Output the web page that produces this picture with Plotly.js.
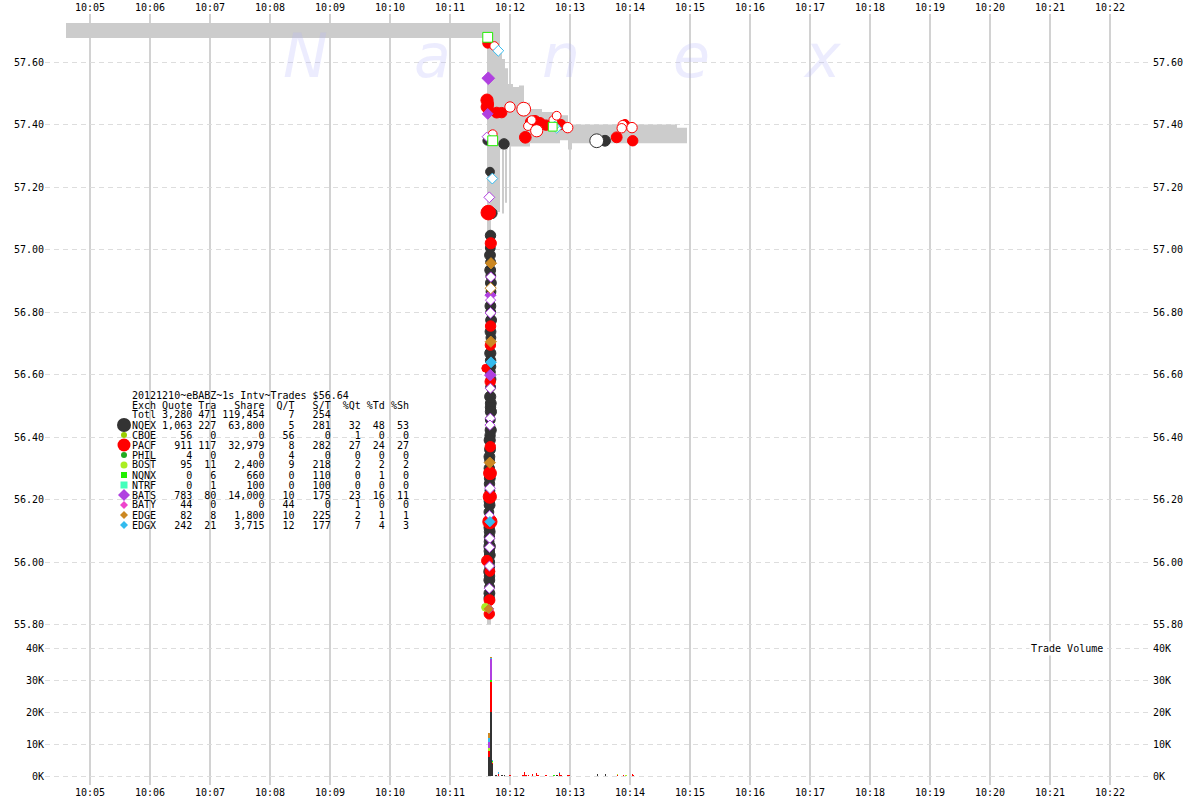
<!DOCTYPE html>
<html><head><meta charset="utf-8">
<script src="https://cdn.plot.ly/plotly-3.0.1.min.js"></script>
<style>html,body{margin:0;padding:0;background:#fff}#chart{width:1200px;height:800px}</style>
</head><body><div id="chart"></div>
<script>
// ---------- time base: values below are seconds after 10:11:00 on 2012-12-10 ----------
const BASE_MS = Date.UTC(2012, 11, 10, 10, 11, 0);
function toTime(sec) { return new Date(BASE_MS + Math.round(sec * 1000)).toISOString().replace('T', ' ').replace('Z', ''); }

const xRange = ['2012-12-10 10:04:15', '2012-12-10 10:22:42'];
const priceRange = [55.7536, 57.7536];
const volRange = [-2812.5, 42812.5];
const priceTicks = [55.8, 56.0, 56.2, 56.4, 56.6, 56.8, 57.0, 57.2, 57.4, 57.6];
const volTicks = [0, 10000, 20000, 30000, 40000];
const volTickText = ['0K', '10K', '20K', '30K', '40K'];

// ---------- NBBO band (ask / bid) ----------
const bandSec = [-384, 37, 41, 50, 52, 54, 55, 57, 58, 63, 69, 74, 80, 92, 110, 118, 122, 227, 237];
const bandAsk = [57.725, 57.725, 57.725, 57.63, 57.61, 57.61, 57.58, 57.58, 57.53, 57.52, 57.525, 57.47, 57.45, 57.44, 57.43, 57.40, 57.40, 57.39, 57.39];
const bandBid = [57.677, 55.80, 57.12, 57.32, 57.115, 57.32, 57.15, 57.32, 57.33, 57.33, 57.33, 57.33, 57.34, 57.34, 57.35, 57.32, 57.34, 57.34, 57.34];

// ---------- trades (seconds, price, shares) ----------
const nqexSec = [37.3, 54, 40, 41.7, 155,
  40.5, 40.3, 40.0, 40.6, 40.2, 40.8, 40.9, 41.0, 40.4, 40.7, 41.1, 40.5, 40.9, 40.3, 40.6, 40.9, 40.4, 41.0, 40.6, 40.2,
  40.8, 40.5, 40.9, 40.3, 40.7, 40.1, 39.7, 40.0, 39.4, 39.6, 39.3, 39.8, 39.5, 39.9, 39.3, 39.6, 38.9, 39.2, 39.7, 39.4,
  39.1, 39.6, 39.3, 39.8, 39.4, 39.7, 39.2, 39.5, 39.3, 39.6, 39.4, 39.2];
const nqexPx = [57.348, 57.338, 57.249, 57.116, 57.348,
  57.045, 57.005, 56.982, 56.960, 56.934, 56.915, 56.893, 56.865, 56.819, 56.800, 56.774, 56.737, 56.718, 56.668, 56.645, 56.625, 56.608, 56.585, 56.560, 56.529,
  56.508, 56.495, 56.481, 56.455, 56.422, 56.405, 56.390, 56.360, 56.337, 56.325, 56.300, 56.268, 56.250, 56.228, 56.195, 56.182, 56.160, 56.110, 56.097, 56.080,
  56.065, 56.050, 56.035, 56.022, 56.000, 55.985, 55.969, 55.955, 55.942, 55.920, 55.900, 55.885, 55.865, 55.850, 55.834, 55.823];
const nqexSh = [100, 300, 100, 400, 400,
  300, 200, 400, 200, 400, 200, 400, 200, 400, 200, 400, 400, 200, 500, 300, 200, 200, 200, 200, 500,
  400, 300, 500, 200, 500, 300, 500, 400, 400, 200, 300, 400, 300, 200, 300, 400, 200, 300, 400, 300,
  200, 600, 300, 400, 300, 200, 400, 300, 400, 200, 400, 300, 300, 200, 400, 300];
const nqexOpenSec = [146.7];
const nqexOpenPx = [57.348];
const nqexOpenSh = [3000];

const pacfSec = [37.7, 37.0, 37.2, 38.0, 46.7, 51.7, 75.3, 81, 85, 90, 96, 110.7, 166.7, 182.7, 175,
  38.3, 40.8, 40.6, 40.4, 40.2, 35.7, 40.3, 40.0, 39.8, 39.9, 37.0, 39.9, 39.5, 39.3];
const pacfPx = [57.660, 57.478, 57.456, 57.466, 57.438, 57.438, 57.359, 57.408, 57.411, 57.405, 57.398, 57.400, 57.359, 57.348, 57.402,
  57.118, 57.020, 56.755, 56.694, 56.577, 56.620, 56.369, 56.284, 56.209, 56.129, 56.004, 55.970, 55.878, 55.834];
const pacfSh = [200, 1000, 1000, 500, 400, 300, 700, 500, 500, 400, 300, 300, 400, 300, 100,
  5000, 500, 300, 300, 300, 50, 300, 1500, 2000, 4000, 400, 200, 400, 300];
const pacfOpenSec = [44.3, 42.7, 60, 73.7, 78, 86.7, 81.7, 103.3, 106.7, 117.7, 172.7, 171.7, 182];
const pacfOpenPx = [57.651, 57.369, 57.456, 57.449, 57.395, 57.380, 57.414, 57.414, 57.428, 57.390, 57.398, 57.388, 57.390];
const pacfOpenSh = [100, 100, 300, 3000, 100, 1000, 100, 100, 100, 300, 150, 150, 300];

const batsSec = [38.3, 37.7, 40.5, 40.3, 39.2];
const batsPx = [57.548, 57.434, 56.854, 56.598, 55.850];
const batsSh = [1000, 300, 400, 500, 100];
const batsOpenSec = [39.3, 36.7, 40.8, 40.6, 40.5, 40.4, 40.3, 40.0, 40.0, 39.8, 39.6, 39.5, 39.4, 39.6];
const batsOpenPx = [57.167, 57.361, 56.912, 56.838, 56.797, 56.556, 56.460, 56.438, 56.236, 56.076, 56.047, 55.987, 55.916, 56.150];
const batsOpenSh = [300, 100, 200, 200, 300, 200, 200, 200, 300, 200, 200, 200, 200, 100];

const edgeSec = [41.0, 40.8, 39.8, 38.7];
const edgePx = [56.956, 56.705, 56.318, 55.850];
const edgeSh = [400, 400, 400, 100];
const edgeOpenSec = [40.7];
const edgeOpenPx = [56.876];
const edgeOpenSh = [400];

const edgxSec = [41.0, 39.9];
const edgxPx = [56.639, 56.129];
const edgxSh = [300, 200];
const edgxOpenSec = [48.3, 42.3, 106.7, 104.7];
const edgxOpenPx = [57.636, 57.227, 57.388, 57.395];
const edgxOpenSh = [300, 300, 150, 150];

const nqnxOpenSec = [37.7, 42.7, 102.7];
const nqnxOpenPx = [57.679, 57.348, 57.393];
const nqnxOpenSh = [200, 200, 100];

const bostSec = [35.5];
const bostPx = [55.855];
const bostSh = [50];

// ---------- volume per second (shares) ----------
const volSec  = [39.2, 40.8, 42.5, 46, 48.3, 52, 54.3, 60, 72.7, 74.3, 76, 78.3, 82.3, 86.3, 87.7, 96, 104, 106.7, 109.3, 111, 117.7, 118.7, 147.3, 155.3, 167.3, 173.3, 176, 182.3, 183.3];
const volNQEX = [6000, 20100, 3700, 300, 0, 200, 300, 0, 0, 0, 0, 0, 0, 0, 0, 0, 0, 200, 0, 0, 0, 0, 750, 500, 0, 0, 0, 0, 0];
const volPACF = [1700, 9400, 500, 0, 700, 0, 0, 400, 200, 1200, 300, 200, 500, 1000, 300, 200, 0, 0, 900, 200, 300, 200, 0, 0, 300, 300, 0, 500, 200];
const volBOST = [1200, 0, 200, 0, 0, 0, 0, 0, 0, 0, 0, 0, 0, 0, 0, 0, 0, 0, 0, 0, 0, 0, 0, 0, 450, 0, 300, 0, 0];
const volNQNX = [0, 400, 300, 0, 0, 0, 0, 0, 0, 0, 0, 0, 0, 0, 0, 0, 300, 0, 0, 0, 0, 0, 0, 0, 0, 0, 0, 0, 0];
const volBATS = [1600, 6700, 0, 0, 0, 0, 0, 0, 0, 0, 0, 0, 0, 0, 0, 0, 0, 0, 0, 0, 0, 0, 0, 0, 0, 0, 0, 0, 0];
const volEDGX = [1500, 400, 400, 0, 500, 0, 0, 0, 0, 0, 0, 0, 0, 0, 0, 0, 0, 0, 500, 0, 0, 0, 0, 0, 0, 0, 0, 0, 0];
const volEDGE = [1300, 300, 0, 0, 0, 0, 0, 0, 0, 0, 0, 0, 0, 0, 0, 0, 0, 0, 0, 0, 0, 0, 0, 0, 0, 0, 0, 0, 0];

// ---------- summary table ----------
const tableTitle = '20121210~eBABZ~1s Intv~Trades $56.64';
const legExch  = ['Totl', 'NQEX', 'CBOE', 'PACF', 'PHIL', 'BOST', 'NQNX', 'NTRF', 'BATS', 'BATY', 'EDGE', 'EDGX'];
const legQuote = ['3,280', '1,063', '56', '911', '4', '95', '0', '0', '783', '44', '82', '242'];
const legTra   = ['471', '227', '0', '117', '0', '11', '6', '1', '80', '0', '8', '21'];
const legShare = ['119,454', '63,800', '0', '32,979', '0', '2,400', '660', '100', '14,000', '0', '1,800', '3,715'];
const legQT    = ['7', '5', '56', '8', '4', '9', '0', '0', '10', '44', '10', '12'];
const legST    = ['254', '281', '0', '282', '0', '218', '110', '100', '175', '0', '225', '177'];
const legXQt   = ['', '32', '1', '27', '0', '2', '0', '0', '23', '1', '2', '7'];
const legXTd   = ['', '48', '0', '24', '0', '2', '1', '0', '16', '0', '1', '4'];
const legXSh   = ['', '53', '0', '27', '0', '2', '0', '0', '11', '0', '1', '3'];

// ---------- styles ----------
const COLOR = {NQEX:'#333333', CBOE:'#99cc00', PACF:'#ff0000', PHIL:'#22aa22', BOST:'#aaee22', NQNX:'#22ee00',
               NTRF:'#44ffbb', BATS:'#b040e0', BATY:'#ee44cc', EDGE:'#cc8822', EDGX:'#33bbee'};
const LEG_SYMBOL = {NQEX:['circle',14], CBOE:['circle',6], PACF:['circle',13], PHIL:['circle',6], BOST:['circle',7],
                    NQNX:['square',6], NTRF:['square',7], BATS:['diamond',12], BATY:['diamond',8], EDGE:['diamond',8], EDGX:['diamond',8]};
const FONT = 'DejaVu Sans Mono, monospace';
const PLOT_L = 45, PLOT_R = 1152, PLOT_T = 14, PLOT_B = 785;
const pxX = x => (x - PLOT_L) / (PLOT_R - PLOT_L);
const pxY = y => (PLOT_B - y) / (PLOT_B - PLOT_T);
const sizeOf = s => 2 + 3.4 * Math.log10(s);

function tradeTrace(sec, px, sh, exch, symbol, open) {
  const k = symbol === 'diamond' ? 0.8 : 1;
  return {type:'scatter', mode:'markers', x: sec.map(toTime), y: px, xaxis:'x', yaxis:'y', hoverinfo:'skip',
    marker:{symbol: symbol, size: sh.map(s => sizeOf(s) * k), opacity: 1, color: open ? '#ffffff' : COLOR[exch],
            line:{color: COLOR[exch], width: 1}}};
}
function volTrace(vals, exch) {
  return {type:'bar', x: volSec.map(toTime), y: vals, width: 1600, xaxis:'x', yaxis:'y2', hoverinfo:'skip',
    marker:{color: COLOR[exch], line:{width:0}}};
}

const traces = [
  {type:'scatter', mode:'lines', x: bandSec.map(toTime), y: bandBid, xaxis:'x', yaxis:'y', hoverinfo:'skip',
   line:{shape:'hv', width:0, color:'#cccccc'}},
  {type:'scatter', mode:'lines', x: bandSec.map(toTime), y: bandAsk, xaxis:'x', yaxis:'y', hoverinfo:'skip',
   line:{shape:'hv', width:0, color:'#cccccc'}, fill:'tonexty', fillcolor:'#cccccc'},
  tradeTrace(nqexSec, nqexPx, nqexSh, 'NQEX', 'circle', false),
  tradeTrace(nqexOpenSec, nqexOpenPx, nqexOpenSh, 'NQEX', 'circle', true),
  tradeTrace(pacfSec, pacfPx, pacfSh, 'PACF', 'circle', false),
  tradeTrace(pacfOpenSec, pacfOpenPx, pacfOpenSh, 'PACF', 'circle', true),
  tradeTrace(bostSec, bostPx, bostSh, 'BOST', 'circle', false),
  tradeTrace(batsSec, batsPx, batsSh, 'BATS', 'diamond', false),
  tradeTrace(batsOpenSec, batsOpenPx, batsOpenSh, 'BATS', 'diamond', true),
  tradeTrace(edgeSec, edgePx, edgeSh, 'EDGE', 'diamond', false),
  tradeTrace(edgeOpenSec, edgeOpenPx, edgeOpenSh, 'EDGE', 'diamond', true),
  tradeTrace(edgxSec, edgxPx, edgxSh, 'EDGX', 'diamond', false),
  tradeTrace(edgxOpenSec, edgxOpenPx, edgxOpenSh, 'EDGX', 'diamond', true),
  tradeTrace(nqnxOpenSec, nqnxOpenPx, nqnxOpenSh, 'NQNX', 'square', true),
  volTrace(volNQEX, 'NQEX'),
  volTrace(volPACF, 'PACF'),
  volTrace(volBOST, 'BOST'),
  volTrace(volNQNX, 'NQNX'),
  volTrace(volBATS, 'BATS'),
  volTrace(volEDGX, 'EDGX'),
  volTrace(volEDGE, 'EDGE')
];

// ---------- table annotations ----------
const nb = s => s.replace(/ /g, '\u00a0');
function row(e, q, t, s, qt, st, a, b, c) {
  return e.padEnd(4) + ' ' + q.padStart(5) + ' ' + t.padStart(3) + s.padStart(8) + qt.padStart(5) + st.padStart(6) + a.padStart(5) + b.padStart(4) + c.padStart(4);
}
const tableLines = [tableTitle, row('Exch', 'Quote', 'Tra', 'Share', 'Q/T', 'S/T', '%Qt', '%Td', '%Sh')];
legExch.forEach((e, i) => tableLines.push(row(e, legQuote[i], legTra[i], legShare[i], legQT[i], legST[i], legXQt[i], legXTd[i], legXSh[i])));

const annotations = [];
const shapes = [];
const TABLE_X = 131, TABLE_Y0 = 395, ROW_H = 10;
tableLines.forEach((line, i) => {
  annotations.push({xref:'paper', yref:'paper', x: pxX(TABLE_X), y: pxY(TABLE_Y0 + i * ROW_H), xanchor:'left', yanchor:'middle',
    text: nb(line), showarrow:false, font:{family: FONT, size:10, color:'#000'}, borderpad:0});
});
legExch.forEach((e, i) => {
  if (!LEG_SYMBOL[e]) return;
  const [sym, d] = LEG_SYMBOL[e];
  const r = d / 2;
  const base = {xref:'paper', yref:'paper', xsizemode:'pixel', ysizemode:'pixel', xanchor: pxX(124), yanchor: pxY(TABLE_Y0 + (i + 2) * ROW_H),
                fillcolor: COLOR[e], line:{width:0}, layer:'above'};
  if (sym === 'circle') shapes.push(Object.assign({type:'circle', x0:-r, x1:r, y0:-r, y1:r}, base));
  else if (sym === 'square') shapes.push(Object.assign({type:'rect', x0:-r, x1:r, y0:-r, y1:r}, base));
  else shapes.push(Object.assign({type:'path', path:`M ${-r},0 L 0,${r} L ${r},0 L 0,${-r} Z`}, base));
});

// watermark
const WM = ['N', 'a', 'n', 'e', 'x'];
const WM_X = [305, 432, 561, 691, 822];
WM.forEach((ch, i) => annotations.push({xref:'paper', yref:'paper', x: pxX(WM_X[i]), y: pxY(56), xanchor:'center', yanchor:'middle',
  text: ch, showarrow:false, font:{family:'DejaVu Sans', size:60, style:'italic', color:'rgba(180,180,250,0.25)'}}));

annotations.push({xref:'paper', yref:'paper', x: pxX(1067), y: pxY(648), xanchor:'center', yanchor:'middle',
  text: nb('Trade Volume'), showarrow:false, bgcolor:'#ffffff', borderpad:1, font:{family: FONT, size:10, color:'#000'}});

const gridDash = '5px,4px';
const yCommon = {showgrid:true, gridcolor:'#dddddd', griddash: gridDash, gridwidth:1, zeroline:false, showline:false, ticks:'',
                 tickfont:{family: FONT, size:10, color:'#000'}, fixedrange:true};
const xCommon = {type:'date', range: xRange, tickformat:'%H:%M', dtick:60000, tick0:'2012-12-10 10:05:00', ticks:'',
                 showline:false, zeroline:false, tickfont:{family: FONT, size:10, color:'#000'}, fixedrange:true};

const sepFrac = pxY(639);
const layout = {
  width:1200, height:800, margin:{l: PLOT_L, r: 1200 - PLOT_R, t: PLOT_T, b: 800 - PLOT_B, pad:0},
  paper_bgcolor:'#ffffff', plot_bgcolor:'#ffffff', showlegend:false, barmode:'stack', bargap:0,
  font:{family: FONT, size:10, color:'#000'},
  xaxis: Object.assign({}, xCommon, {anchor:'y2', side:'bottom', showgrid:true, gridcolor:'#d2d2d2', gridwidth:2}),
  xaxis2: Object.assign({}, xCommon, {anchor:'y', side:'top', overlaying:'x', matches:'x', showgrid:false}),
  yaxis: Object.assign({}, yCommon, {domain:[sepFrac, 1], range: priceRange, tickvals: priceTicks, tickformat:'.2f', side:'left', anchor:'x'}),
  yaxis3: Object.assign({}, yCommon, {overlaying:'y', matches:'y', range: priceRange, tickvals: priceTicks, tickformat:'.2f', side:'right', anchor:'x', showgrid:false}),
  yaxis2: Object.assign({}, yCommon, {domain:[0, sepFrac], range: volRange, tickvals: volTicks, ticktext: volTickText, side:'left', anchor:'x'}),
  yaxis4: Object.assign({}, yCommon, {overlaying:'y2', matches:'y2', range: volRange, tickvals: volTicks, ticktext: volTickText, side:'right', anchor:'x', showgrid:false}),
  annotations: annotations,
  shapes: shapes
};

// invisible anchors so the mirrored axes get drawn
traces.push({type:'scatter', mode:'markers', x:[xRange[0]], y:[priceRange[0]], xaxis:'x2', yaxis:'y3', marker:{opacity:0}, hoverinfo:'skip'});
traces.push({type:'scatter', mode:'markers', x:[xRange[0]], y:[volRange[0]], xaxis:'x', yaxis:'y4', marker:{opacity:0}, hoverinfo:'skip'});

Plotly.newPlot('chart', traces, layout, {displayModeBar:false, staticPlot:true});
</script>
</body></html>
